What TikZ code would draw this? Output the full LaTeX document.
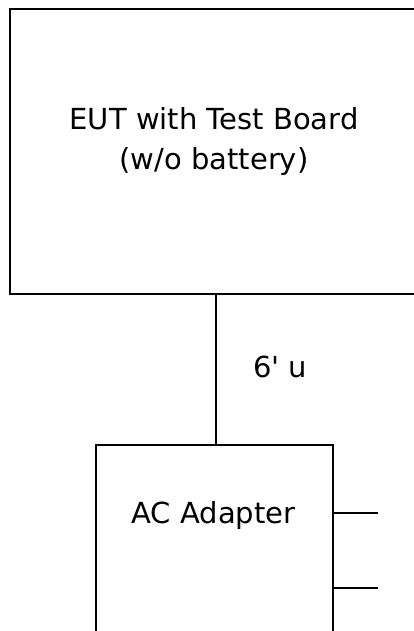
\documentclass[tikz,border=0pt]{standalone}
\usepackage{fontspec}
\setmainfont{DejaVu Sans}
\begin{document}
\begin{tikzpicture}[
    x=1pt, y=-1pt,
    box/.style={draw, line width=1.7pt, inner sep=0pt, anchor=north west},
    wire/.style={line width=1.7pt},
    lbl/.style={inner sep=0pt, font=\fontsize{29}{40}\selectfont}
  ]
    \clip (0,0) rectangle (414,631);

    \node[box, minimum width=412pt, minimum height=285pt] (eut) at (9,8) {};
    \node[lbl, align=center, anchor=base] (eutl) at (214,170) {EUT with Test Board\\(w/o battery)};

    \node[box, minimum width=237pt, minimum height=240pt] (ac) at (95,444) {};
    \node[lbl, anchor=base] (acl) at (213.5,523) {AC Adapter};

    \coordinate (p1) at (378,513);
    \coordinate (p2) at (378,588);

    \draw[wire] (eut.south) -- (eut.south |- ac.north);
    \node[lbl, anchor=base west] (len) at (253,377) {6\textquotesingle{} u};
    \draw[wire] (ac.east |- p1) -- (p1);
    \draw[wire] (ac.east |- p2) -- (p2);
  \end{tikzpicture}
\end{document}
